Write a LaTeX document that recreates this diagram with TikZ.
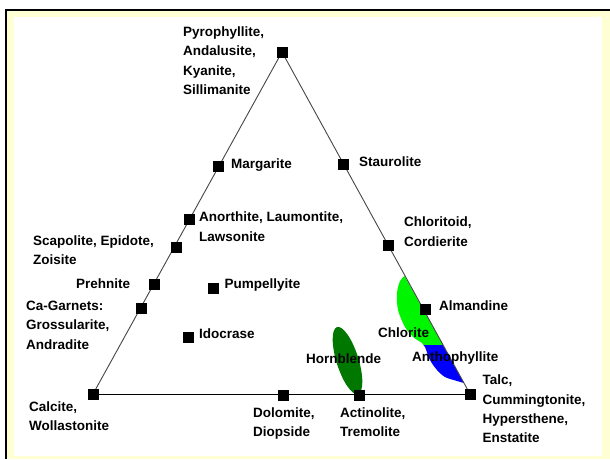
\documentclass[tikz,border=0pt]{standalone}
\usepackage{fontspec}
\setmainfont{Liberation Sans}
\definecolor{bgyellow}{RGB}{255,255,212}
\definecolor{hbgreen}{RGB}{0,120,0}
\definecolor{chlgreen}{RGB}{0,245,0}
\definecolor{anthblue}{RGB}{0,0,255}
\definecolor{sideline}{RGB}{70,70,70}
\begin{document}
\begin{tikzpicture}[x=1pt,y=-1pt,
  sq/.style={rectangle,fill=black,minimum size=11pt,inner sep=0pt},
  lbl/.style={anchor=base west,inner sep=0pt,align=left,font=\bfseries\fontsize{13.5}{19.3}\selectfont},
  side/.style={draw=sideline,line width=0.9pt},
  baseline/.style={draw=black,line width=1pt}]
\useasboundingbox (0,0) rectangle (610,459);
% frame
\fill[white] (0,0) rectangle (610,459);
\fill[bgyellow] (7,11) rectangle (610,459);
\fill[black] (5,9) rectangle (610,11);
\fill[black] (5,9) rectangle (7,459);
\fill[white] (14,17) rectangle (602,456);
% coordinates
\coordinate (top) at (282,52);
\coordinate (calc) at (93,394);
\coordinate (talc) at (470,394);
% coloured fields
\def\blobpath{plot[smooth] coordinates {(464,383) (457,381) (445,377) (437,370) (430,360) (425,347) (422,343) (413,337) (405,327) (398,310) (397,293) (400,281) (404.5,276)} -- cycle}
\begin{scope}
\clip (0,0) rectangle (610,345);
\fill[chlgreen] \blobpath;
\end{scope}
\begin{scope}
\clip (0,345) rectangle (610,459);
\fill[anthblue] \blobpath;
\end{scope}
\fill[hbgreen,rotate around={-72.6:(347.5,360.5)}] (347.5,360.5) ellipse (35 and 11);
% triangle
\draw[side] (calc) -- (top) -- (talc);
\draw[baseline] (calc) -- (talc);
% squares
\node[sq] (sqtop) at (top) {};
\node[sq] (sqcalc) at (calc) {};
\node[sq] (sqtalc) at (talc) {};
\node[sq] (sqmarg) at (218,166) {};
\node[sq] (sqstaur) at (343,164) {};
\node[sq] (sqanor) at (189,219) {};
\node[sq] (sqscap) at (176,247) {};
\node[sq] (sqpreh) at (154,284) {};
\node[sq] (sqcagar) at (141,308) {};
\node[sq] (sqpump) at (213.5,288) {};
\node[sq] (sqidoc) at (188,337) {};
\node[sq] (sqchlt) at (388,245) {};
\node[sq] (sqalm) at (425,309) {};
\node[sq] (sqdolo) at (283,395) {};
\node[sq] (sqactin) at (359,395) {};
% labels (base anchor = baseline of last line)
\node[lbl] (tpyro) at (183,94.3) {Pyrophyllite,\\Andalusite,\\Kyanite,\\Sillimanite};
\node[lbl] (tmarg) at (231,168.7) {Margarite};
\node[lbl] (tstaur) at (359,166.4) {Staurolite};
\node[lbl] (tanor) at (199,241) {Anorthite, Laumontite,\\Lawsonite};
\node[lbl] (tscap) at (33,264.7) {Scapolite, Epidote,\\Zoisite};
\node[lbl] (tpreh) at (76,288) {Prehnite};
\node[lbl] (tcagar) at (26,349) {Ca-Garnets:\\Grossularite,\\Andradite};
\node[lbl] (tpump) at (224.5,288) {Pumpellyite};
\node[lbl] (tidoc) at (199,338) {Idocrase};
\node[lbl] (tchlt) at (404,246) {Chloritoid,\\Cordierite};
\node[lbl] (talm) at (439,310.4) {Almandine};
\node[lbl] (tchlor) at (378,337) {Chlorite};
\node[lbl] (thorn) at (306,363.4) {Hornblende};
\node[lbl] (tanth) at (412,361) {Anthophyllite};
\node[lbl] (tcalc) at (29,430.7) {Calcite,\\Wollastonite};
\node[lbl] (tdolo) at (253,436.7) {Dolomite,\\Diopside};
\node[lbl] (tactin) at (340,436.7) {Actinolite,\\Tremolite};
\node[lbl] (ttalc) at (482.5,442.6) {Talc,\\Cummingtonite,\\Hypersthene,\\Enstatite};
\end{tikzpicture}
\end{document}
